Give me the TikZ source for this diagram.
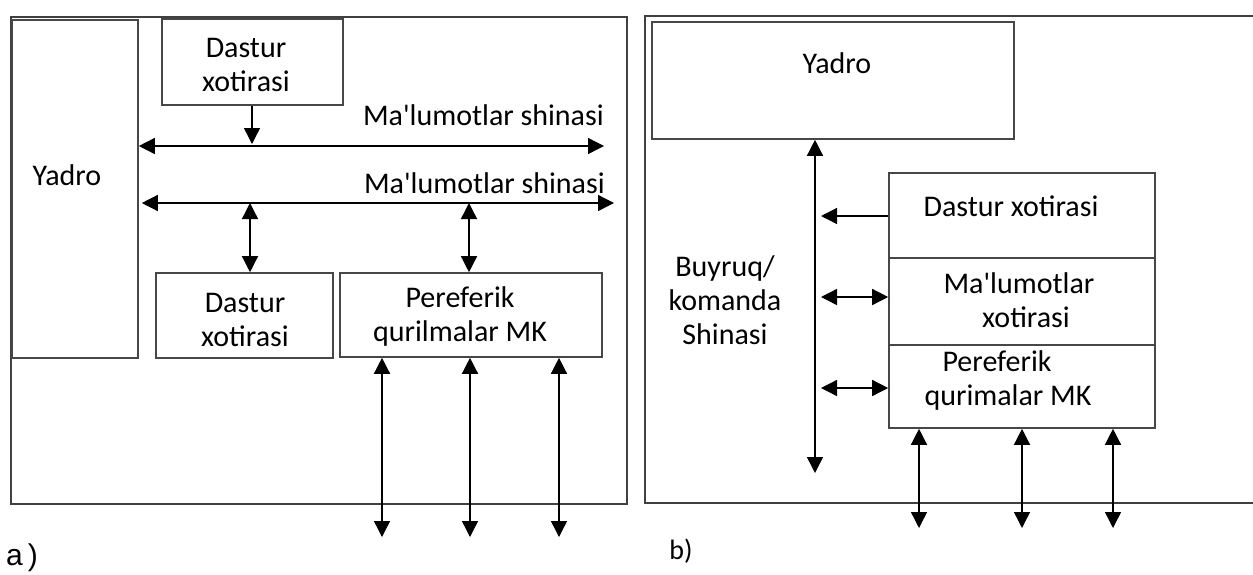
\documentclass[tikz,border=0pt]{standalone}
\usepackage{fontspec}
\setmainfont{Carlito}[Ligatures=TeXOff]
\newfontfamily\arialf{Liberation Sans}
\usetikzlibrary{arrows.meta}
\newcommand\apos{{\char39}}
\begin{document}
\begin{tikzpicture}[x=1pt,y=-1pt,
  frame/.style={draw=black!75, line width=2pt},
  box/.style={draw=black!72, line width=1.6pt, inner sep=0pt},
  txt/.style={font=\fontsize{30}{34}\selectfont, align=center, inner sep=0pt},
  conn/.style={line width=1.4pt, -{Triangle[length=16pt,width=16pt]}},
  bi/.style={line width=1.4pt, {Triangle[length=16pt,width=16pt]}-{Triangle[length=16pt,width=16pt]}},
]
\useasboundingbox (0,0) rectangle (1253,574);

% ---------------- panel a ----------------
\node[frame, inner sep=0pt, minimum width=616pt, minimum height=487pt, anchor=north west] (fa) at (10,16) {};
\node[box, minimum width=126pt, minimum height=338pt] (ya) at (75,189) {};
\node[txt] (yat) at (67,175) {Yadro};
\node[box, minimum width=181pt, minimum height=86pt] (da) at (252.5,62) {};
\node[txt] (dat) at (246,65) {Dastur\\xotirasi};
\node[box, minimum width=177pt, minimum height=85pt] (db) at (244.5,315.5) {};
\node[txt] (dbt) at (245,320) {Dastur\\xotirasi};
\node[box, minimum width=262pt, minimum height=84pt] (pa) at (471,315) {};
\node[txt] (pat) at (460,316) {Pereferik\\qurilmalar MK};

\node[txt, anchor=east] (l1) at (604,115) {Ma\apos lumotlar shinasi};
\node[txt, anchor=east] (l2) at (605,183) {Ma\apos lumotlar shinasi};

\coordinate (b1r) at (604,146);
\coordinate (b2r) at (614,203);
\draw[bi] (ya.east |- b1r) -- (b1r);
\draw[bi] (ya.east |- b2r) ++(3,0) -- (b2r);
\coordinate (d1) at (252,144);
\draw[conn] (da.south -| d1) -- (d1);
\coordinate (v1) at (250,203);
\coordinate (v2) at (469,203);
\draw[bi] (v1) -- (db.north -| v1);
\draw[bi] (v2) -- (pa.north -| v2);
\coordinate (o1) at (382,537);
\coordinate (o2) at (470,537);
\coordinate (o3) at (559,537);
\draw[bi] (pa.south -| o1) -- (o1);
\draw[bi] (pa.south -| o2) -- (o2);
\draw[bi] (pa.south -| o3) -- (o3);

\node[font=\arialf\fontsize{30}{32}\selectfont, inner sep=0pt] (la) at (22,558) {a\,)};

% ---------------- panel b ----------------
\draw[frame] (1253,16) -- (645,16) -- (645,503) -- (1253,503);
\node[box, minimum width=362pt, minimum height=117pt] (yb) at (833,80.5) {};
\node[txt] (ybt) at (837,63) {Yadro};
\node[box, minimum width=266pt, minimum height=85pt] (dx) at (1022,215.5) {};
\node[box, minimum width=266pt, minimum height=87pt] (mx) at (1022,301.5) {};
\node[box, minimum width=266pt, minimum height=83pt] (px) at (1022,386.5) {};
\node[txt] (dxt) at (1011,206) {Dastur xotirasi};
\node[txt] (mxt) at (1019,300) {Ma\apos lumotlar\\\hspace*{14pt}xotirasi};
\node[txt] (pxt) at (1008,380) {Pereferik\hspace*{22pt}\\qurimalar MK};
\node[txt] (bst) at (725,300) {Buyruq/\\komanda\\Shinasi};

\coordinate (bb) at (815,473);
\draw[bi] (yb.south -| bb) -- (bb);
\coordinate (c1) at (821,216);
\draw[conn] (dx.west |- c1) -- (c1);
\coordinate (c2) at (821,297);
\coordinate (c3) at (821,388);
\draw[bi] (c2) -- (mx.west |- c2);
\draw[bi] (c3) -- (px.west |- c3);
\coordinate (q1) at (919,528);
\coordinate (q2) at (1022,528);
\coordinate (q3) at (1113,528);
\draw[bi] (px.south -| q1) -- (q1);
\draw[bi] (px.south -| q2) -- (q2);
\draw[bi] (px.south -| q3) -- (q3);

\node[font=\fontsize{28}{30}\selectfont, inner sep=0pt] (lb) at (681,551) {b)};
\end{tikzpicture}
\end{document}
